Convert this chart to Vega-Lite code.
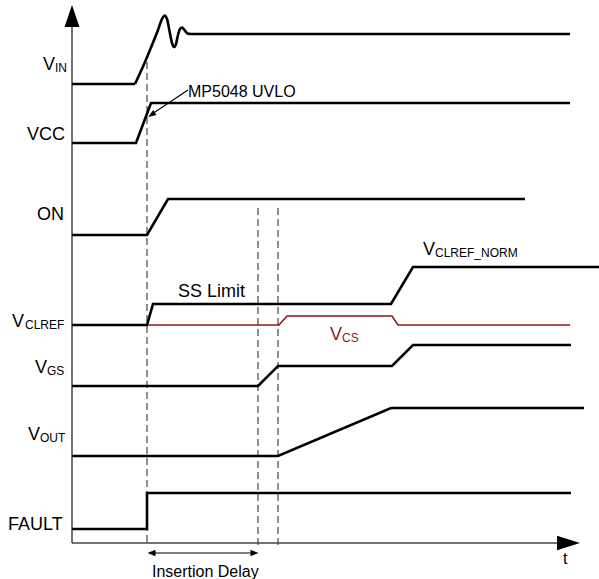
{
  "$schema": "https://vega.github.io/schema/vega-lite/v6.json",
  "width": 599,
  "height": 579,
  "padding": 0,
  "autosize": {"type": "none"},
  "background": "white",
  "config": {"view": {"stroke": null}, "font": "Liberation Sans"},
  "datasets": {
    "lines": [
      {"s": "VIN0", "t": 72, "v": 84}, {"s": "VIN0", "t": 135, "v": 84},
      {"s": "VCC", "t": 72, "v": 143}, {"s": "VCC", "t": 136, "v": 143}, {"s": "VCC", "t": 151, "v": 103}, {"s": "VCC", "t": 570, "v": 103},
      {"s": "ON", "t": 72, "v": 235}, {"s": "ON", "t": 147, "v": 235}, {"s": "ON", "t": 168, "v": 199}, {"s": "ON", "t": 525, "v": 199},
      {"s": "VCLREF", "t": 72, "v": 325}, {"s": "VCLREF", "t": 147, "v": 325}, {"s": "VCLREF", "t": 153, "v": 304}, {"s": "VCLREF", "t": 391, "v": 304}, {"s": "VCLREF", "t": 413, "v": 267}, {"s": "VCLREF", "t": 599, "v": 267},
      {"s": "VGS", "t": 72, "v": 386}, {"s": "VGS", "t": 258, "v": 386}, {"s": "VGS", "t": 278, "v": 366}, {"s": "VGS", "t": 392, "v": 366}, {"s": "VGS", "t": 413, "v": 345}, {"s": "VGS", "t": 571, "v": 345},
      {"s": "VOUT", "t": 72, "v": 456}, {"s": "VOUT", "t": 278, "v": 456}, {"s": "VOUT", "t": 391, "v": 408}, {"s": "VOUT", "t": 584, "v": 408},
      {"s": "FAULT", "t": 72, "v": 529}, {"s": "FAULT", "t": 147, "v": 529}, {"s": "FAULT", "t": 147, "v": 493}, {"s": "FAULT", "t": 571, "v": 493}
    ],
    "curve": [
      {"t": 135, "v": 84}, {"t": 145, "v": 62}, {"t": 152, "v": 45}, {"t": 158, "v": 30}, {"t": 162, "v": 19}, {"t": 164.5, "v": 15.5}, {"t": 167, "v": 19}, {"t": 169.5, "v": 31}, {"t": 172, "v": 43}, {"t": 174, "v": 47}, {"t": 176, "v": 44}, {"t": 178, "v": 35}, {"t": 180, "v": 29}, {"t": 182, "v": 27.5}, {"t": 184.5, "v": 30}, {"t": 187.5, "v": 33.5}, {"t": 191, "v": 34}, {"t": 200, "v": 34}, {"t": 570, "v": 34}
    ],
    "red": [
      {"t": 147, "v": 325}, {"t": 279, "v": 325}, {"t": 287, "v": 316}, {"t": 392, "v": 316}, {"t": 398, "v": 325}, {"t": 570, "v": 325}
    ],
    "dash": [
      {"t": 147, "v": 62, "v2": 545}, {"t": 258, "v": 208, "v2": 545}, {"t": 278, "v": 208, "v2": 545}
    ],
    "axes": [
      {"t": 72, "v": 26, "t2": 72, "v2": 543}, {"t": 72, "v": 543, "t2": 558, "v2": 543}
    ],
    "thin": [
      {"t": 188, "v": 90, "t2": 152, "v2": 114}, {"t": 152, "v": 553, "t2": 254, "v2": 553}
    ],
    "bigMain": [
      {"t": 43, "v": 70, "txt": "V"}, {"t": 27, "v": 140, "txt": "VCC"}, {"t": 37, "v": 220, "txt": "ON"},
      {"t": 12, "v": 327, "txt": "V"}, {"t": 35, "v": 373, "txt": "V"}, {"t": 28, "v": 440, "txt": "V"},
      {"t": 8, "v": 530, "txt": "FAULT"}, {"t": 178, "v": 297, "txt": "SS Limit"}, {"t": 423, "v": 255, "txt": "V"}
    ],
    "subs": [
      {"t": 55, "v": 72, "txt": "IN"}, {"t": 25, "v": 329, "txt": "CLREF"}, {"t": 47, "v": 375, "txt": "GS"},
      {"t": 40, "v": 442, "txt": "OUT"}, {"t": 435, "v": 257, "txt": "CLREF_NORM"}
    ],
    "redText": [{"t": 330, "v": 340, "txt": "V"}],
    "redSub": [{"t": 342, "v": 342, "txt": "CS"}],
    "notes": [
      {"t": 188, "v": 97, "txt": "MP5048 UVLO"}, {"t": 152, "v": 577, "txt": "Insertion Delay"}, {"t": 563, "v": 564, "txt": "t"}
    ]
  },
  "layer": [
    {
      "data": {"name": "dash"},
      "mark": {"type": "rule", "color": "#555555", "strokeWidth": 1.3, "strokeDash": [7, 4]},
      "encoding": {
        "x": {"field": "t", "type": "quantitative", "scale": {"domain": [0, 599], "nice": false, "zero": false}, "axis": null},
        "y": {"field": "v", "type": "quantitative", "scale": {"domain": [0, 579], "nice": false, "zero": false, "reverse": true}, "axis": null},
        "y2": {"field": "v2"}
      }
    },
    {
      "data": {"name": "axes"},
      "mark": {"type": "rule", "color": "#444444", "strokeWidth": 1.5},
      "encoding": {
        "x": {"field": "t", "type": "quantitative"},
        "y": {"field": "v", "type": "quantitative"},
        "x2": {"field": "t2"},
        "y2": {"field": "v2"}
      }
    },
    {
      "data": {"name": "thin"},
      "mark": {"type": "rule", "color": "#000000", "strokeWidth": 1.2},
      "encoding": {
        "x": {"field": "t", "type": "quantitative"},
        "y": {"field": "v", "type": "quantitative"},
        "x2": {"field": "t2"},
        "y2": {"field": "v2"}
      }
    },
    {
      "data": {"name": "red"},
      "mark": {"type": "line", "color": "#8e1a1a", "strokeWidth": 1.6},
      "encoding": {
        "x": {"field": "t", "type": "quantitative"},
        "y": {"field": "v", "type": "quantitative"},
        "order": {"field": "t"}
      }
    },
    {
      "data": {"name": "lines"},
      "mark": {"type": "line", "color": "#000000", "strokeWidth": 2.6, "strokeJoin": "miter"},
      "encoding": {
        "x": {"field": "t", "type": "quantitative"},
        "y": {"field": "v", "type": "quantitative"},
        "detail": {"field": "s"},
        "order": {"field": "t"}
      }
    },
    {
      "data": {"name": "curve"},
      "mark": {"type": "line", "color": "#000000", "strokeWidth": 2.6, "interpolate": "monotone"},
      "encoding": {
        "x": {"field": "t", "type": "quantitative"},
        "y": {"field": "v", "type": "quantitative"},
        "order": {"field": "t"}
      }
    },
    {
      "data": {"values": [{"t": 72, "v": 16}]},
      "mark": {"type": "point", "filled": true, "color": "#000000", "opacity": 1, "size": 484, "shape": "M0,-1L0.68,1L-0.68,1Z", "strokeWidth": 0},
      "encoding": {"x": {"field": "t", "type": "quantitative"}, "y": {"field": "v", "type": "quantitative"}}
    },
    {
      "data": {"values": [{"t": 568.5, "v": 543}]},
      "mark": {"type": "point", "filled": true, "color": "#000000", "opacity": 1, "size": 529, "shape": "M1,0L-1,0.62L-1,-0.62Z", "strokeWidth": 0},
      "encoding": {"x": {"field": "t", "type": "quantitative"}, "y": {"field": "v", "type": "quantitative"}}
    },
    {
      "data": {"values": [{"t": 151.5, "v": 553}]},
      "mark": {"type": "point", "filled": true, "color": "#000000", "opacity": 1, "size": 64, "shape": "M-1,0L1,0.8L1,-0.8Z", "strokeWidth": 0},
      "encoding": {"x": {"field": "t", "type": "quantitative"}, "y": {"field": "v", "type": "quantitative"}}
    },
    {
      "data": {"values": [{"t": 254.5, "v": 553}]},
      "mark": {"type": "point", "filled": true, "color": "#000000", "opacity": 1, "size": 64, "shape": "M1,0L-1,0.8L-1,-0.8Z", "strokeWidth": 0},
      "encoding": {"x": {"field": "t", "type": "quantitative"}, "y": {"field": "v", "type": "quantitative"}}
    },
    {
      "data": {"values": [{"t": 151.5, "v": 114.8}]},
      "mark": {"type": "point", "filled": true, "color": "#000000", "opacity": 1, "size": 64, "shape": "M-1,0L1,0.75L1,-0.75Z", "strokeWidth": 0, "angle": 326},
      "encoding": {"x": {"field": "t", "type": "quantitative"}, "y": {"field": "v", "type": "quantitative"}}
    },
    {
      "data": {"name": "bigMain"},
      "mark": {"type": "text", "fontSize": 18, "align": "left", "baseline": "alphabetic", "color": "#000000"},
      "encoding": {"x": {"field": "t", "type": "quantitative"}, "y": {"field": "v", "type": "quantitative"}, "text": {"field": "txt"}}
    },
    {
      "data": {"name": "subs"},
      "mark": {"type": "text", "fontSize": 12, "align": "left", "baseline": "alphabetic", "color": "#000000"},
      "encoding": {"x": {"field": "t", "type": "quantitative"}, "y": {"field": "v", "type": "quantitative"}, "text": {"field": "txt"}}
    },
    {
      "data": {"name": "redText"},
      "mark": {"type": "text", "fontSize": 18, "align": "left", "baseline": "alphabetic", "color": "#8e1a1a"},
      "encoding": {"x": {"field": "t", "type": "quantitative"}, "y": {"field": "v", "type": "quantitative"}, "text": {"field": "txt"}}
    },
    {
      "data": {"name": "redSub"},
      "mark": {"type": "text", "fontSize": 12, "align": "left", "baseline": "alphabetic", "color": "#8e1a1a"},
      "encoding": {"x": {"field": "t", "type": "quantitative"}, "y": {"field": "v", "type": "quantitative"}, "text": {"field": "txt"}}
    },
    {
      "data": {"name": "notes"},
      "mark": {"type": "text", "fontSize": 16, "align": "left", "baseline": "alphabetic", "color": "#000000"},
      "encoding": {"x": {"field": "t", "type": "quantitative"}, "y": {"field": "v", "type": "quantitative"}, "text": {"field": "txt"}}
    }
  ]
}
